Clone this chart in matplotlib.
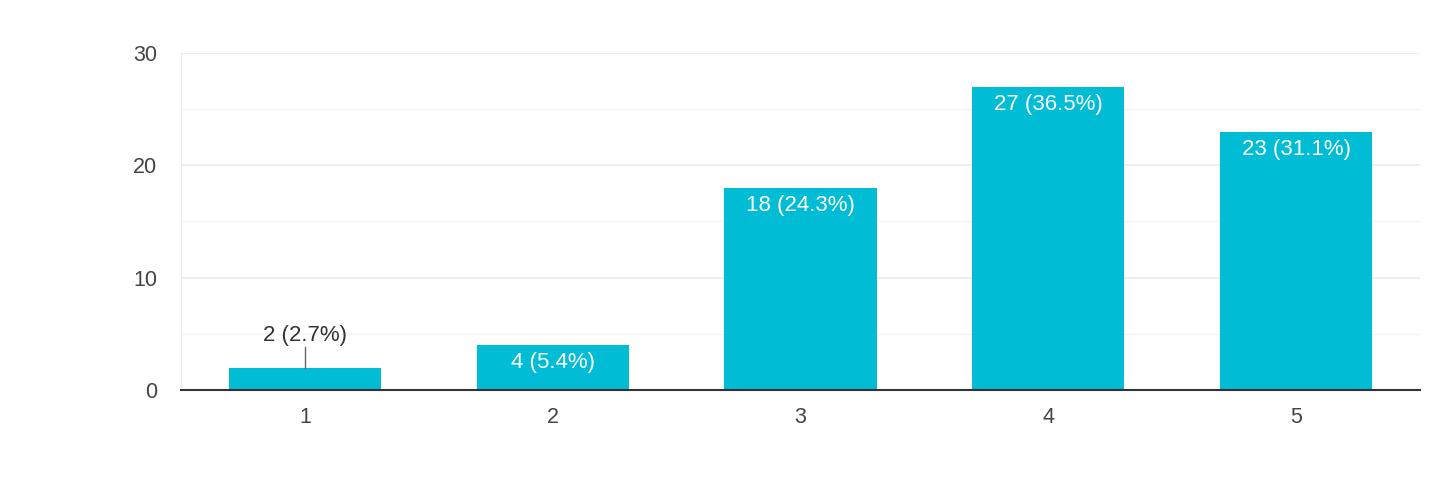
import matplotlib.pyplot as plt

plt.rcParams['font.family'] = ['Liberation Sans', 'DejaVu Sans']

categories = [1, 2, 3, 4, 5]
counts = [2, 4, 18, 27, 23]
labels = ['2 (2.7%)', '4 (5.4%)', '18 (24.3%)', '27 (36.5%)', '23 (31.1%)']

bar_color = '#00BCD4'
text_color = '#444444'

fig = plt.figure(figsize=(14.4, 5.03), dpi=100)
ax = fig.add_axes([0.1257, 0.2247, 0.8604, 0.6699])

bars = ax.bar(categories, counts, width=0.615, color=bar_color, zorder=3)

ax.set_xlim(0.5, 5.5)
ax.set_ylim(0, 30)
ax.set_yticks([0, 10, 20, 30])
ax.set_yticks([5, 15, 25], minor=True)
ax.set_xticks(categories)
ax.grid(axis='y', which='major', color='#ebebeb', lw=1.2, zorder=0)
ax.grid(axis='y', which='minor', color='#f4f4f4', lw=1.0, zorder=0)
ax.tick_params(axis='both', which='both', length=0, labelsize=15.5, colors=text_color)
ax.tick_params(axis='y', pad=17)
ax.tick_params(axis='x', pad=12)

for s in ['top', 'right']:
    ax.spines[s].set_visible(False)
ax.spines['left'].set_color('#ebebeb')
ax.spines['bottom'].set_color('#333333')
ax.spines['bottom'].set_linewidth(1.5)
ax.spines['bottom'].set_zorder(4)

for x, v, lab in zip(categories, counts, labels):
    if v < 3:
        ax.plot([x, x], [v, v + 1.8], color='#666666', lw=1, zorder=4)
        ax.annotate(lab, (x, v + 1.8), xytext=(0, 1), textcoords='offset points',
                    ha='center', va='bottom', fontsize=16, color='#333333')
    else:
        ax.annotate(lab, (x, v), xytext=(0, -5), textcoords='offset points',
                    ha='center', va='top', fontsize=16, color='white', zorder=5)

fig.savefig('out.png', dpi=100)
